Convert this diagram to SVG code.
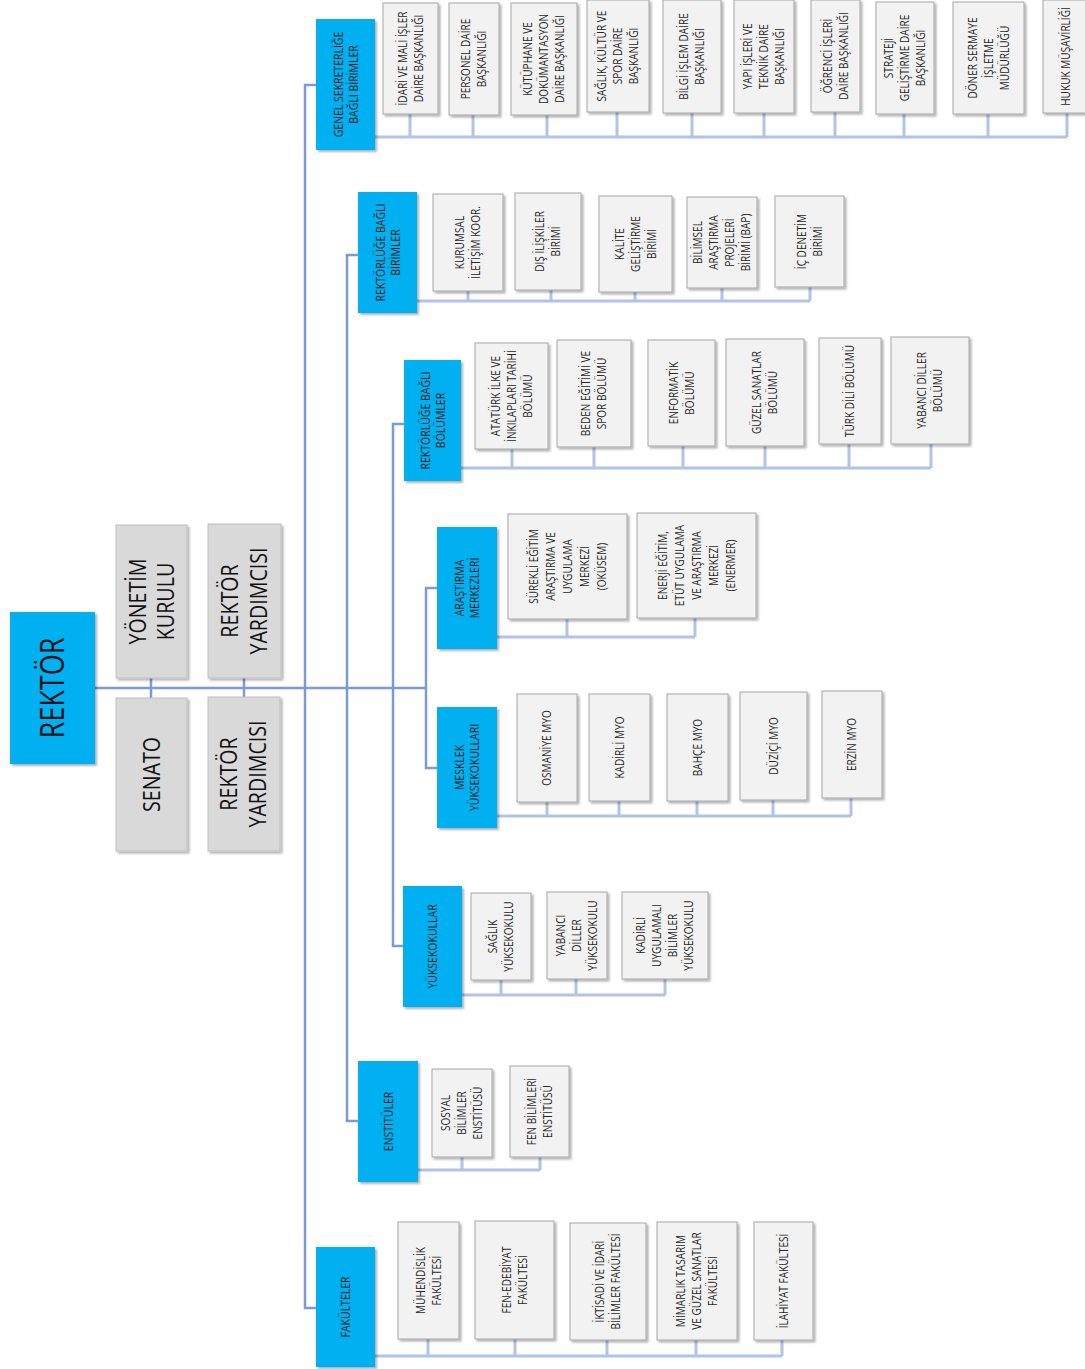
<svg xmlns="http://www.w3.org/2000/svg" width="1085" height="1369" viewBox="0 0 1085 1369">
<defs>
<filter id="sh" x="-15%" y="-15%" width="140%" height="140%"><feDropShadow dx="2" dy="2" stdDeviation="1.2" flood-color="#000" flood-opacity="0.3"/></filter>
<style>
.b{fill:#00B0F0;filter:url(#sh)}
.g{fill:#D9D9D9;stroke:#BFBFBF;stroke-width:1;filter:url(#sh)}
.c{fill:#F2F2F2;stroke:#A6A6A6;stroke-width:1;filter:url(#sh)}
.t{font-family:"Open Sans","Liberation Sans",sans-serif;font-size:12px;fill:#262626;text-anchor:middle}
.tb{font-family:"Open Sans","Liberation Sans",sans-serif;font-size:12.5px;fill:#1e1e1e;text-anchor:middle}
.tl{font-family:"Open Sans","Liberation Sans",sans-serif;font-size:24px;fill:#111;text-anchor:middle}
.tr{font-family:"Open Sans","Liberation Sans",sans-serif;font-size:33px;fill:#111;text-anchor:middle}
.m{stroke:#7B9BD2;stroke-width:2.5;fill:none}
.s{stroke:#AFC4E7;stroke-width:3;fill:none}
</style>
</defs>
<rect width="1085" height="1369" fill="#fff"/>
<g id="connectors">
<path class="m" d="M95 688H426M151 678V698M244 678V697M316 85H305V1308H316M358 255H347V1121H358M404 424H393V946H403M437 588H426V768H437"/>
<path class="s" d="M375 137H1067M410 114V137M473 115V137M547 115V137M617 112V137M692 113V137M764 113V137M835 112V137M904 114V137M988 114V137M1067 113V137"/>
<path class="s" d="M417 301H810M468 291V301M551 290V301M635 292V301M722 288V301M810 287V301"/>
<path class="s" d="M461 468H931M512 449V468M594 447V468M683 446V468M765 446V468M849 444V468M931 444V468"/>
<path class="s" d="M497 637H695M567 619V637M695 618V637"/>
<path class="s" d="M497 816H851M547 802V816M619 801V816M697 801V816M773 800V816M851 798V816"/>
<path class="s" d="M462 995H665M501 980V995M576 979V995M665 979V995"/>
<path class="s" d="M418 1170H540M462 1157V1170M540 1157V1170"/>
<path class="s" d="M375 1356H782M428 1339V1356M515 1339V1356M607 1340V1356M696 1340V1356M782 1340V1356"/>
</g>

<g id="rektor"><rect class="b" x="10" y="612" width="85" height="152"/><text class="tr" transform="translate(52.5 688) rotate(-90) scale(.82 1)"><tspan x="0" y="11.8">REKTÖR</tspan></text></g>
<g id="yonetim"><rect class="g" x="116" y="525" width="71" height="153"/><text class="tl" transform="translate(151.5 601.5) rotate(-90) scale(.82 1)"><tspan x="0" y="-5.4">YÖNETİM</tspan><tspan x="0" y="22.6">KURULU</tspan></text></g>
<g id="senato"><rect class="g" x="116" y="698" width="71" height="153"/><text class="tl" transform="translate(151.5 774.5) rotate(-90) scale(.82 1)"><tspan x="0" y="8.6">SENATO</tspan></text></g>
<g id="ry1"><rect class="g" x="208" y="524" width="73" height="154"/><text class="tl" transform="translate(244.5 601) rotate(-90) scale(.82 1)"><tspan x="0" y="-6.9">REKTÖR</tspan><tspan x="0" y="22.1">YARDIMCISI</tspan></text></g>
<g id="ry2"><rect class="g" x="208" y="697" width="72" height="154"/><text class="tl" transform="translate(244 774) rotate(-90) scale(.82 1)"><tspan x="0" y="-6.9">REKTÖR</tspan><tspan x="0" y="22.1">YARDIMCISI</tspan></text></g>

<g id="gsb"><rect class="b" x="316" y="19" width="59" height="131"/><text class="tb" transform="translate(345.5 84.5) rotate(-90) scale(.84 1)"><tspan x="0" y="-3">GENEL SEKRETERLİĞE</tspan><tspan x="0" y="12">BAĞLI BİRİMLER</tspan></text></g>
<g id="gsb1"><rect class="c" x="383" y="3" width="55" height="111"/><text class="t" transform="translate(410.5 58.5) rotate(-90) scale(.84 1)"><tspan x="0" y="-3.7">İDARİ VE MALİ İŞLER</tspan><tspan x="0" y="12.3">DAİRE BAŞKANLIĞI</tspan></text></g>
<g id="gsb2"><rect class="c" x="449" y="3" width="50" height="112"/><text class="t" transform="translate(474 59) rotate(-90) scale(.84 1)"><tspan x="0" y="-3.7">PERSONEL DAİRE</tspan><tspan x="0" y="12.3">BAŞKANLIĞI</tspan></text></g>
<g id="gsb3"><rect class="c" x="511" y="3" width="66" height="112"/><text class="t" transform="translate(544 59) rotate(-90) scale(.84 1)"><tspan x="0" y="-11.7">KÜTÜPHANE VE</tspan><tspan x="0" y="4.3">DOKÜMANTASYON</tspan><tspan x="0" y="20.3">DAİRE BAŞKANLIĞI</tspan></text></g>
<g id="gsb4"><rect class="c" x="587" y="0" width="62" height="112"/><text class="t" transform="translate(618 56) rotate(-90) scale(.84 1)"><tspan x="0" y="-11.7">SAĞLIK, KÜLTÜR VE</tspan><tspan x="0" y="4.3">SPOR DAİRE</tspan><tspan x="0" y="20.3">BAŞKANLIĞI</tspan></text></g>
<g id="gsb5"><rect class="c" x="663" y="0" width="58" height="113"/><text class="t" transform="translate(692 56.5) rotate(-90) scale(.84 1)"><tspan x="0" y="-3.7">BİLGİ İŞLEM DAİRE</tspan><tspan x="0" y="12.3">BAŞKANLIĞI</tspan></text></g>
<g id="gsb6"><rect class="c" x="734" y="0" width="60" height="113"/><text class="t" transform="translate(764 56.5) rotate(-90) scale(.84 1)"><tspan x="0" y="-11.7">YAPI İŞLERİ VE</tspan><tspan x="0" y="4.3">TEKNİK DAİRE</tspan><tspan x="0" y="20.3">BAŞKANLIĞI</tspan></text></g>
<g id="gsb7"><rect class="c" x="811" y="0" width="49" height="112"/><text class="t" transform="translate(835.5 56) rotate(-90) scale(.84 1)"><tspan x="0" y="-3.7">ÖĞRENCİ İŞLERİ</tspan><tspan x="0" y="12.3">DAİRE BAŞKANLIĞI</tspan></text></g>
<g id="gsb8"><rect class="c" x="876" y="2" width="58" height="112"/><text class="t" transform="translate(905 58) rotate(-90) scale(.84 1)"><tspan x="0" y="-11.7">STRATEJİ</tspan><tspan x="0" y="4.3">GELİŞTİRME DAİRE</tspan><tspan x="0" y="20.3">BAŞKANLIĞI</tspan></text></g>
<g id="gsb9"><rect class="c" x="953" y="2" width="71" height="112"/><text class="t" transform="translate(988.5 58) rotate(-90) scale(.84 1)"><tspan x="0" y="-11.7">DÖNER SERMAYE</tspan><tspan x="0" y="4.3">İŞLETME</tspan><tspan x="0" y="20.3">MÜDÜRLÜĞÜ</tspan></text></g>
<g id="gsb10"><rect class="c" x="1043" y="0" width="48" height="113"/><text class="t" transform="translate(1066 56.5) rotate(-90) scale(.84 1)"><tspan x="0" y="4.3">HUKUK MÜŞAVİRLİĞİ</tspan></text></g>

<g id="rbbirim"><rect class="b" x="358" y="192" width="59" height="121"/><text class="tb" transform="translate(387.5 252.5) rotate(-90) scale(.84 1)"><tspan x="0" y="-3">REKTÖRLÜĞE BAĞLI</tspan><tspan x="0" y="12">BİRİMLER</tspan></text></g>
<g id="rbbirim1"><rect class="c" x="433" y="194" width="70" height="97"/><text class="t" transform="translate(468 242.5) rotate(-90) scale(.84 1)"><tspan x="0" y="-3.7">KURUMSAL</tspan><tspan x="0" y="12.3">İLETİŞİM  KOOR.</tspan></text></g>
<g id="rbbirim2"><rect class="c" x="515" y="193" width="66" height="97"/><text class="t" transform="translate(548 241.5) rotate(-90) scale(.84 1)"><tspan x="0" y="-3.7">DIŞ İLİŞKİLER</tspan><tspan x="0" y="12.3">BİRİMİ</tspan></text></g>
<g id="rbbirim3"><rect class="c" x="599" y="196" width="73" height="96"/><text class="t" transform="translate(635.5 244) rotate(-90) scale(.84 1)"><tspan x="0" y="-11.7">KALİTE</tspan><tspan x="0" y="4.3">GELİŞTİRME</tspan><tspan x="0" y="20.3">BİRİMİ</tspan></text></g>
<g id="rbbirim4"><rect class="c" x="687" y="197" width="70" height="91"/><text class="t" transform="translate(722 242.5) rotate(-90) scale(.84 1)"><tspan x="0" y="-19.7">BİLİMSEL</tspan><tspan x="0" y="-3.7">ARAŞTIRMA</tspan><tspan x="0" y="12.3">PROJELERİ</tspan><tspan x="0" y="28.3">BİRİMİ (BAP)</tspan></text></g>
<g id="rbbirim5"><rect class="c" x="775" y="196" width="69" height="91"/><text class="t" transform="translate(809.5 241.5) rotate(-90) scale(.84 1)"><tspan x="0" y="-3.7">İÇ DENETİM</tspan><tspan x="0" y="12.3">BİRİMİ</tspan></text></g>

<g id="rbbolum"><rect class="b" x="404" y="360" width="57" height="121"/><text class="tb" transform="translate(432.5 420.5) rotate(-90) scale(.84 1)"><tspan x="0" y="-3">REKTÖRLÜĞE  BAĞLI</tspan><tspan x="0" y="12">BÖLÜMLER</tspan></text></g>
<g id="rbbolum1"><rect class="c" x="475" y="343" width="73" height="106"/><text class="t" transform="translate(511.5 396) rotate(-90) scale(.84 1)"><tspan x="0" y="-11.7">ATATÜRK İLKE VE</tspan><tspan x="0" y="4.3">İNKILAPLARI TARİHİ</tspan><tspan x="0" y="20.3">BÖLÜMÜ</tspan></text></g>
<g id="rbbolum2"><rect class="c" x="557" y="340" width="74" height="107"/><text class="t" transform="translate(594 393.5) rotate(-90) scale(.84 1)"><tspan x="0" y="-3.7">BEDEN EĞİTİMİ VE</tspan><tspan x="0" y="12.3">SPOR BÖLÜMÜ</tspan></text></g>
<g id="rbbolum3"><rect class="c" x="648" y="340" width="67" height="106"/><text class="t" transform="translate(681.5 393) rotate(-90) scale(.84 1)"><tspan x="0" y="-3.7">ENFORMATİK</tspan><tspan x="0" y="12.3">BÖLÜMÜ</tspan></text></g>
<g id="rbbolum4"><rect class="c" x="726" y="339" width="78" height="107"/><text class="t" transform="translate(765 392.5) rotate(-90) scale(.84 1)"><tspan x="0" y="-3.7">GÜZEL SANATLAR</tspan><tspan x="0" y="12.3">BÖLÜMÜ</tspan></text></g>
<g id="rbbolum5"><rect class="c" x="819" y="338" width="62" height="106"/><text class="t" transform="translate(850 391) rotate(-90) scale(.84 1)"><tspan x="0" y="4.3">TÜRK DİLİ BÖLÜMÜ</tspan></text></g>
<g id="rbbolum6"><rect class="c" x="891" y="337" width="78" height="107"/><text class="t" transform="translate(930 390.5) rotate(-90) scale(.84 1)"><tspan x="0" y="-3.7">YABANCI DİLLER</tspan><tspan x="0" y="12.3">BÖLÜMÜ</tspan></text></g>

<g id="arastirma"><rect class="b" x="437" y="527" width="60" height="122"/><text class="tb" transform="translate(467 588) rotate(-90) scale(.84 1)"><tspan x="0" y="-3">ARAŞTIRMA</tspan><tspan x="0" y="12">MERKEZLERİ</tspan></text></g>
<g id="arastirma1"><rect class="c" x="508" y="514" width="119" height="105"/><text class="t" transform="translate(567.5 566.5) rotate(-90) scale(.84 1)"><tspan x="0" y="-29.7">SÜREKLİ EĞİTİM</tspan><tspan x="0" y="-12.7">ARAŞTIRMA VE</tspan><tspan x="0" y="4.3">UYGULAMA</tspan><tspan x="0" y="21.3">MERKEZİ</tspan><tspan x="0" y="38.3">(OKÜSEM)</tspan></text></g>
<g id="arastirma2"><rect class="c" x="637" y="513" width="119" height="105"/><text class="t" transform="translate(696.5 565.5) rotate(-90) scale(.84 1)"><tspan x="0" y="-29.7">ENERJİ EĞİTİM,</tspan><tspan x="0" y="-12.7">ETÜT UYGULAMA</tspan><tspan x="0" y="4.3">VE ARAŞTIRMA</tspan><tspan x="0" y="21.3">MERKEZİ</tspan><tspan x="0" y="38.3">(ENERMER)</tspan></text></g>

<g id="myo"><rect class="b" x="437" y="707" width="60" height="121"/><text class="tb" transform="translate(467 767.5) rotate(-90) scale(.84 1)"><tspan x="0" y="-3">MESKLEK</tspan><tspan x="0" y="12">YÜKSEKOKULLARI</tspan></text></g>
<g id="myo1"><rect class="c" x="517" y="694" width="60" height="108"/><text class="t" transform="translate(547 748) rotate(-90) scale(.84 1)"><tspan x="0" y="4.3">OSMANİYE MYO</tspan></text></g>
<g id="myo2"><rect class="c" x="589" y="694" width="61" height="107"/><text class="t" transform="translate(619.5 747.5) rotate(-90) scale(.84 1)"><tspan x="0" y="4.3">KADİRLİ MYO</tspan></text></g>
<g id="myo3"><rect class="c" x="667" y="694" width="61" height="107"/><text class="t" transform="translate(697.5 747.5) rotate(-90) scale(.84 1)"><tspan x="0" y="4.3">BAHÇE MYO</tspan></text></g>
<g id="myo4"><rect class="c" x="740" y="692" width="67" height="108"/><text class="t" transform="translate(773.5 746) rotate(-90) scale(.84 1)"><tspan x="0" y="4.3">DÜZİÇİ MYO</tspan></text></g>
<g id="myo5"><rect class="c" x="822" y="691" width="60" height="107"/><text class="t" transform="translate(852 744.5) rotate(-90) scale(.84 1)"><tspan x="0" y="4.3">ERZİN MYO</tspan></text></g>

<g id="yo"><rect class="b" x="403" y="886" width="59" height="121"/><text class="tb" transform="translate(432.5 946.5) rotate(-90) scale(.84 1)"><tspan x="0" y="4.5">YÜKSEKOKULLAR</tspan></text></g>
<g id="yo1"><rect class="c" x="471" y="893" width="60" height="87"/><text class="t" transform="translate(501 936.5) rotate(-90) scale(.84 1)"><tspan x="0" y="-3.7">SAĞLIK</tspan><tspan x="0" y="12.3">YÜKSEKOKULU</tspan></text></g>
<g id="yo2"><rect class="c" x="547" y="892" width="60" height="87"/><text class="t" transform="translate(577 935.5) rotate(-90) scale(.84 1)"><tspan x="0" y="-11.7">YABANCI</tspan><tspan x="0" y="4.3">DİLLER</tspan><tspan x="0" y="20.3">YÜKSEKOKULU</tspan></text></g>
<g id="yo3"><rect class="c" x="622" y="892" width="86" height="87"/><text class="t" transform="translate(665 935.5) rotate(-90) scale(.84 1)"><tspan x="0" y="-19.7">KADİRLİ</tspan><tspan x="0" y="-3.7">UYGULAMALI</tspan><tspan x="0" y="12.3">BİLİMLER</tspan><tspan x="0" y="28.3">YÜKSEKOKULU</tspan></text></g>

<g id="ens"><rect class="b" x="358" y="1061" width="60" height="121"/><text class="tb" transform="translate(388 1121.5) rotate(-90) scale(.84 1)"><tspan x="0" y="4.5">ENSTİTÜLER</tspan></text></g>
<g id="ens1"><rect class="c" x="432" y="1069" width="60" height="88"/><text class="t" transform="translate(462 1113) rotate(-90) scale(.84 1)"><tspan x="0" y="-11.7">SOSYAL</tspan><tspan x="0" y="4.3">BİLİMLER</tspan><tspan x="0" y="20.3">ENSTİTÜSÜ</tspan></text></g>
<g id="ens2"><rect class="c" x="510" y="1066" width="59" height="91"/><text class="t" transform="translate(539.5 1111.5) rotate(-90) scale(.84 1)"><tspan x="0" y="-3.7">FEN BİLİMLERİ</tspan><tspan x="0" y="12.3">ENSTİTÜSÜ</tspan></text></g>

<g id="fak"><rect class="b" x="316" y="1247" width="59" height="120"/><text class="tb" transform="translate(345.5 1307) rotate(-90) scale(.84 1)"><tspan x="0" y="4.5">FAKÜLTELER</tspan></text></g>
<g id="fak1"><rect class="c" x="398" y="1222" width="61" height="117"/><text class="t" transform="translate(428.5 1280.5) rotate(-90) scale(.84 1)"><tspan x="0" y="-3.7">MÜHENDİSLİK</tspan><tspan x="0" y="12.3">FAKÜLTESİ</tspan></text></g>
<g id="fak2"><rect class="c" x="475" y="1221" width="79" height="118"/><text class="t" transform="translate(514.5 1280) rotate(-90) scale(.84 1)"><tspan x="0" y="-3.7">FEN-EDEBİYAT</tspan><tspan x="0" y="12.3">FAKÜLTESİ</tspan></text></g>
<g id="fak3"><rect class="c" x="570" y="1223" width="76" height="117"/><text class="t" transform="translate(608 1281.5) rotate(-90) scale(.84 1)"><tspan x="0" y="-3.7">İKTİSADİ VE İDARİ</tspan><tspan x="0" y="12.3">BİLİMLER FAKÜLTESİ</tspan></text></g>
<g id="fak4"><rect class="c" x="657" y="1222" width="80" height="118"/><text class="t" transform="translate(697 1281) rotate(-90) scale(.84 1)"><tspan x="0" y="-11.7">MİMARLIK TASARIM</tspan><tspan x="0" y="4.3">VE GÜZEL SANATLAR</tspan><tspan x="0" y="20.3">FAKÜLTESİ</tspan></text></g>
<g id="fak5"><rect class="c" x="754" y="1222" width="59" height="118"/><text class="t" transform="translate(783.5 1281) rotate(-90) scale(.84 1)"><tspan x="0" y="4.3">İLAHİYAT FAKÜLTESİ</tspan></text></g>
</svg>
